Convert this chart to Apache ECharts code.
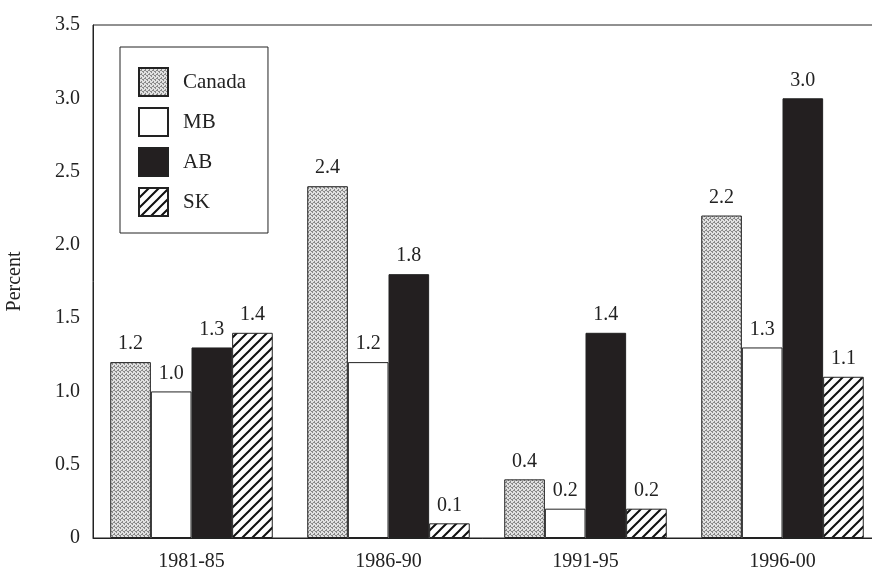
<!DOCTYPE html>
<html>
<head>
<meta charset="utf-8">
<script src="https://cdn.jsdelivr.net/npm/echarts@6/dist/echarts.min.js"></script>
<style>html,body{margin:0;padding:0;background:#fff}#c{width:872px;height:578px}</style>
</head>
<body>
<div id="c"></div>
<script>
const categories = ['1981-85', '1986-90', '1991-95', '1996-00'];
const canada = [1.2, 2.4, 0.4, 2.2];
const mb = [1.0, 1.2, 0.2, 1.3];
const ab = [1.3, 1.8, 1.4, 3.0];
const sk = [1.4, 0.1, 0.2, 1.1];
const seriesNames = ['Canada', 'MB', 'AB', 'SK'];

function stipple() {
  const c = document.createElement('canvas');
  c.width = 4; c.height = 4;
  const g = c.getContext('2d');
  g.fillStyle = '#e0e0e0'; g.fillRect(0, 0, 4, 4);
  g.fillStyle = '#888';
  g.fillRect(0, 0, 1, 1); g.fillRect(2, 1, 1, 1); g.fillRect(1, 2, 1, 1); g.fillRect(3, 3, 1, 1);
  g.fillRect(2, 2, 1, 1); g.fillRect(0, 3, 1, 1);
  return c;
}
function hatch() {
  const s = 10;
  const c = document.createElement('canvas');
  c.width = s; c.height = s;
  const g = c.getContext('2d');
  g.fillStyle = '#fff'; g.fillRect(0, 0, s, s);
  g.strokeStyle = '#111'; g.lineWidth = 2;
  g.beginPath();
  g.moveTo(-2, s + 2); g.lineTo(s + 2, -2);
  g.moveTo(-2, 2); g.lineTo(2, -2);
  g.moveTo(s - 2, s + 2); g.lineTo(s + 2, s - 2);
  g.stroke();
  return c;
}
const fills = [
  { image: stipple(), repeat: 'repeat' },
  '#ffffff',
  '#231f20',
  { image: hatch(), repeat: 'repeat' }
];
const dataSets = [canada, mb, ab, sk];
const font = 'Liberation Serif';

const chart = echarts.init(document.getElementById('c'), null, { renderer: 'canvas' });
chart.setOption({
  animation: false,
  backgroundColor: '#fff',
  grid: { left: 93, top: 25, height: 513, width: 788, outerBoundsMode: 'none', containLabel: false, show: true, borderColor: '#222', borderWidth: 1, backgroundColor: 'transparent' },
  legend: {
    orient: 'vertical', left: 120, top: 47,
    padding: [20, 22, 16, 18],
    borderColor: '#222', borderWidth: 1,
    itemWidth: 29, itemHeight: 28, itemGap: 10,
    icon: 'rect',
    data: seriesNames,
    textStyle: { fontFamily: font, fontSize: 21, color: '#222', padding: [0, 0, 0, 10] }
  },
  xAxis: {
    type: 'category', data: categories,
    axisLine: { show: true, lineStyle: { color: '#222', width: 1 } },
    axisTick: { show: false },
    axisLabel: { fontFamily: font, fontSize: 20, color: '#222', margin: 14 }
  },
  yAxis: {
    type: 'value', min: 0, max: 3.5, interval: 0.5,
    name: 'Percent', nameLocation: 'middle', nameGap: 68,
    nameTextStyle: { fontFamily: font, fontSize: 20, color: '#222' },
    axisLine: { show: true, lineStyle: { color: '#222', width: 1 } },
    axisTick: { show: false },
    splitLine: { show: false },
    axisLabel: {
      fontFamily: font, fontSize: 20, color: '#222', margin: 13,
      padding: [0, 0, 14, 0],
      formatter: v => v === 0 ? '0' : v.toFixed(1)
    }
  },
  series: seriesNames.map((n, i) => ({
    name: n, type: 'bar', data: dataSets[i],
    barGap: '0%', barCategoryGap: '17.5%',
    itemStyle: { color: fills[i], borderColor: '#222', borderWidth: 1 },
    label: {
      show: true, position: 'top', distance: 8,
      fontFamily: font, fontSize: 20, color: '#222',
      formatter: p => p.value.toFixed(1)
    }
  }))
});
</script>
</body>
</html>
